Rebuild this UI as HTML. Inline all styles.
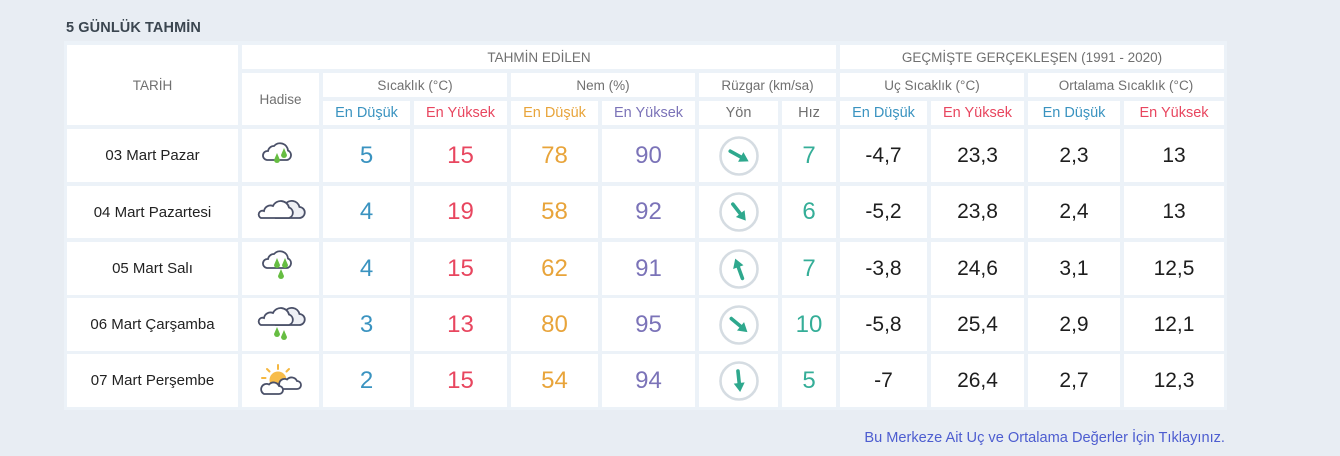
<!DOCTYPE html>
<html>
<head>
<meta charset="utf-8">
<style>
  html,body{margin:0;padding:0;}
  body{width:1340px;height:456px;background:#e8edf3;position:relative;overflow:hidden;
       font-family:"Liberation Sans",sans-serif;}
  .title{position:absolute;left:66px;top:20px;font-size:14.5px;font-weight:bold;color:#3b4650;letter-spacing:0.1px;}
  .tbl{position:absolute;left:64px;top:41px;width:1163px;height:369px;background:#ecf2f8;}
  .c{position:absolute;background:#fff;display:flex;align-items:center;justify-content:center;
     text-align:center;white-space:nowrap;}
  .h{font-size:13.5px;color:#707070;}
  .s{font-size:14.5px;}
  .lo{color:#3a93c0;} .hi{color:#e8465f;} .nlo{color:#e8a43a;} .nhi{color:#7b73b8;} .tl{color:#35ae98;}
  .num{font-size:24px;}
  .hist{font-size:21px;color:#1e1e1e;}
  .date{font-size:15px;color:#222;}
  .foot{position:absolute;right:115px;top:430px;font-size:14.6px;color:#4d5dd0;}
</style>
</head>
<body>
<div class="title">5 GÜNLÜK TAHMİN</div>
<div class="tbl"></div>

<!-- header row 1 -->
<div class="c h" style="left:67px;top:45px;width:171px;height:80px;"><span style="position:relative;top:0px">TARİH</span></div>
<div class="c h" style="left:242px;top:45px;width:594px;height:24px;">TAHMİN EDİLEN</div>
<div class="c h" style="left:840px;top:45px;width:384px;height:24px;">GEÇMİŞTE GERÇEKLEŞEN (1991 - 2020)</div>
<!-- header row 2 -->
<div class="c h" style="left:242px;top:73px;width:77px;height:52px;">Hadise</div>
<div class="c h" style="left:323px;top:73px;width:184px;height:24px;">Sıcaklık (°C)</div>
<div class="c h" style="left:511px;top:73px;width:184px;height:24px;">Nem (%)</div>
<div class="c h" style="left:699px;top:73px;width:137px;height:24px;">Rüzgar (km/sa)</div>
<div class="c h" style="left:840px;top:73px;width:184px;height:24px;">Uç Sıcaklık (°C)</div>
<div class="c h" style="left:1028px;top:73px;width:196px;height:24px;">Ortalama Sıcaklık (°C)</div>
<!-- header row 3 -->
<div class="c h s lo"  style="left:323px;top:101px;width:87px;height:24px;">En Düşük</div>
<div class="c h s hi"  style="left:414px;top:101px;width:93px;height:24px;">En Yüksek</div>
<div class="c h s nlo" style="left:511px;top:101px;width:87px;height:24px;">En Düşük</div>
<div class="c h s nhi" style="left:602px;top:101px;width:93px;height:24px;">En Yüksek</div>
<div class="c h s"     style="left:699px;top:101px;width:79px;height:24px;">Yön</div>
<div class="c h s"     style="left:782px;top:101px;width:54px;height:24px;">Hız</div>
<div class="c h s lo"  style="left:840px;top:101px;width:87px;height:24px;">En Düşük</div>
<div class="c h s hi"  style="left:931px;top:101px;width:93px;height:24px;">En Yüksek</div>
<div class="c h s lo"  style="left:1028px;top:101px;width:92px;height:24px;">En Düşük</div>
<div class="c h s hi"  style="left:1124px;top:101px;width:100px;height:24px;">En Yüksek</div>

<svg width="0" height="0" style="position:absolute">
  <defs>
    <g id="arrow">
      <line x1="0" y1="10" x2="0" y2="-3" stroke="#2ea88d" stroke-width="3.6" stroke-linecap="round"/>
      <polygon points="0,-11 -5.5,-2 5.5,-2" fill="#2ea88d"/>
    </g>
    <path id="drop" d="M0 0 l-3 7 a3 3 0 0 0 6 0 Z" fill="#66bd42"/>
  </defs>
</svg>

<!-- ROW 1 -->
<div class="c date" style="left:67px;top:129px;width:171px;height:53px;">03 Mart Pazar</div>
<div class="c" style="left:242px;top:129px;width:77px;height:53px;">
  <svg width="77" height="53" viewBox="0 0 77 53">
    <path d="M25 31 H45 A5 5 0 0 0 46 21.5 A8 8 0 0 0 32 17 A6 6 0 0 0 26 22 A4.5 4.5 0 0 0 25 31 Z" fill="#fff" stroke="#4a5068" stroke-width="1.8"/>
    <use href="#drop" x="35" y="24"/>
    <use href="#drop" x="42" y="19"/>
  </svg>
</div>
<div class="c num lo"  style="left:323px;top:129px;width:87px;height:53px;">5</div>
<div class="c num hi"  style="left:414px;top:129px;width:93px;height:53px;">15</div>
<div class="c num nlo" style="left:511px;top:129px;width:87px;height:53px;">78</div>
<div class="c num nhi" style="left:602px;top:129px;width:93px;height:53px;">90</div>
<div class="c" style="left:699px;top:129px;width:79px;height:53px;">
  <svg width="44" height="44" viewBox="-22 -22 44 44"><circle r="18.5" fill="none" stroke="#d5dce2" stroke-width="2.6"/><use href="#arrow" transform="rotate(119)"/></svg>
</div>
<div class="c num tl"  style="left:782px;top:129px;width:54px;height:53px;">7</div>
<div class="c hist" style="left:840px;top:129px;width:87px;height:53px;">-4,7</div>
<div class="c hist" style="left:931px;top:129px;width:93px;height:53px;">23,3</div>
<div class="c hist" style="left:1028px;top:129px;width:92px;height:53px;">2,3</div>
<div class="c hist" style="left:1124px;top:129px;width:100px;height:53px;">13</div>

<!-- ROW 2 -->
<div class="c date" style="left:67px;top:186px;width:171px;height:52px;">04 Mart Pazartesi</div>
<div class="c" style="left:242px;top:186px;width:77px;height:52px;">
  <svg width="77" height="52" viewBox="0 0 77 52">
    <path d="M34 32 H57 A5.5 5.5 0 0 0 57.5 21 A8 8 0 0 0 43 18.5 A6 6 0 0 0 36 22 Z" fill="#eef0f5" stroke="#4a5068" stroke-width="1.8"/>
    <path d="M19 32 H47 A5.5 5.5 0 0 0 47 21.5 A8.5 8.5 0 0 0 31 20 A6.5 6.5 0 0 0 22 25 A3.6 3.6 0 0 0 19 32 Z" fill="#fff" stroke="#4a5068" stroke-width="1.8"/>
  </svg>
</div>
<div class="c num lo"  style="left:323px;top:186px;width:87px;height:52px;">4</div>
<div class="c num hi"  style="left:414px;top:186px;width:93px;height:52px;">19</div>
<div class="c num nlo" style="left:511px;top:186px;width:87px;height:52px;">58</div>
<div class="c num nhi" style="left:602px;top:186px;width:93px;height:52px;">92</div>
<div class="c" style="left:699px;top:186px;width:79px;height:52px;">
  <svg width="44" height="44" viewBox="-22 -22 44 44"><circle r="18.5" fill="none" stroke="#d5dce2" stroke-width="2.6"/><use href="#arrow" transform="rotate(142)"/></svg>
</div>
<div class="c num tl"  style="left:782px;top:186px;width:54px;height:52px;">6</div>
<div class="c hist" style="left:840px;top:186px;width:87px;height:52px;">-5,2</div>
<div class="c hist" style="left:931px;top:186px;width:93px;height:52px;">23,8</div>
<div class="c hist" style="left:1028px;top:186px;width:92px;height:52px;">2,4</div>
<div class="c hist" style="left:1124px;top:186px;width:100px;height:52px;">13</div>

<!-- ROW 3 -->
<div class="c date" style="left:67px;top:242px;width:171px;height:53px;">05 Mart Salı</div>
<div class="c" style="left:242px;top:242px;width:77px;height:53px;">
  <svg width="77" height="53" viewBox="0 0 77 53">
    <path d="M25 26 H45 A5 5 0 0 0 46 16.5 A8 8 0 0 0 32 12 A6 6 0 0 0 26 17 A4.5 4.5 0 0 0 25 26 Z" fill="#fff" stroke="#4a5068" stroke-width="1.8"/>
    <use href="#drop" x="35" y="16"/>
    <use href="#drop" x="43" y="16"/>
    <use href="#drop" x="39" y="27"/>
  </svg>
</div>
<div class="c num lo"  style="left:323px;top:242px;width:87px;height:53px;">4</div>
<div class="c num hi"  style="left:414px;top:242px;width:93px;height:53px;">15</div>
<div class="c num nlo" style="left:511px;top:242px;width:87px;height:53px;">62</div>
<div class="c num nhi" style="left:602px;top:242px;width:93px;height:53px;">91</div>
<div class="c" style="left:699px;top:242px;width:79px;height:53px;">
  <svg width="44" height="44" viewBox="-22 -22 44 44"><circle r="18.5" fill="none" stroke="#d5dce2" stroke-width="2.6"/><use href="#arrow" transform="rotate(-20)"/></svg>
</div>
<div class="c num tl"  style="left:782px;top:242px;width:54px;height:53px;">7</div>
<div class="c hist" style="left:840px;top:242px;width:87px;height:53px;">-3,8</div>
<div class="c hist" style="left:931px;top:242px;width:93px;height:53px;">24,6</div>
<div class="c hist" style="left:1028px;top:242px;width:92px;height:53px;">3,1</div>
<div class="c hist" style="left:1124px;top:242px;width:100px;height:53px;">12,5</div>

<!-- ROW 4 -->
<div class="c date" style="left:67px;top:298px;width:171px;height:53px;">06 Mart Çarşamba</div>
<div class="c" style="left:242px;top:298px;width:77px;height:53px;">
  <svg width="77" height="53" viewBox="0 0 77 53">
    <path d="M34 27 H57 A5.5 5.5 0 0 0 57.5 16 A8 8 0 0 0 43 13.5 A6 6 0 0 0 36 17 Z" fill="#eef0f5" stroke="#4a5068" stroke-width="1.8"/>
    <path d="M19 27 H47 A5.5 5.5 0 0 0 47 16.5 A8.5 8.5 0 0 0 31 15 A6.5 6.5 0 0 0 22 20 A3.6 3.6 0 0 0 19 27 Z" fill="#fff" stroke="#4a5068" stroke-width="1.8"/>
    <use href="#drop" x="35" y="29"/>
    <use href="#drop" x="42" y="32"/>
  </svg>
</div>
<div class="c num lo"  style="left:323px;top:298px;width:87px;height:53px;">3</div>
<div class="c num hi"  style="left:414px;top:298px;width:93px;height:53px;">13</div>
<div class="c num nlo" style="left:511px;top:298px;width:87px;height:53px;">80</div>
<div class="c num nhi" style="left:602px;top:298px;width:93px;height:53px;">95</div>
<div class="c" style="left:699px;top:298px;width:79px;height:53px;">
  <svg width="44" height="44" viewBox="-22 -22 44 44"><circle r="18.5" fill="none" stroke="#d5dce2" stroke-width="2.6"/><use href="#arrow" transform="rotate(130)"/></svg>
</div>
<div class="c num tl"  style="left:782px;top:298px;width:54px;height:53px;">10</div>
<div class="c hist" style="left:840px;top:298px;width:87px;height:53px;">-5,8</div>
<div class="c hist" style="left:931px;top:298px;width:93px;height:53px;">25,4</div>
<div class="c hist" style="left:1028px;top:298px;width:92px;height:53px;">2,9</div>
<div class="c hist" style="left:1124px;top:298px;width:100px;height:53px;">12,1</div>

<!-- ROW 5 -->
<div class="c date" style="left:67px;top:354px;width:171px;height:53px;">07 Mart Perşembe</div>
<div class="c" style="left:242px;top:354px;width:77px;height:53px;">
  <svg width="77" height="53" viewBox="0 0 77 53">
    <g stroke="#f5b73f" stroke-width="2" stroke-linecap="round">
      <line x1="36" y1="11" x2="36" y2="15"/>
      <line x1="25" y1="15" x2="27.5" y2="17.5"/>
      <line x1="47" y1="15" x2="44.5" y2="17.5"/>
      <line x1="20" y1="24" x2="23.5" y2="24"/>
    </g>
    <circle cx="36" cy="26" r="8.5" fill="#f7bc4a"/>
    <path d="M40 35 H55 A4 4 0 0 0 55 27 A6 6 0 0 0 45 25.5 A4.5 4.5 0 0 0 40 35 Z" fill="#fff" stroke="#4a5068" stroke-width="1.8"/>
    <path d="M22 40 H37 A4 4 0 0 0 37 32 A6 6 0 0 0 27 30.5 A4.5 4.5 0 0 0 22 40 Z" fill="#fff" stroke="#4a5068" stroke-width="1.8"/>
  </svg>
</div>
<div class="c num lo"  style="left:323px;top:354px;width:87px;height:53px;">2</div>
<div class="c num hi"  style="left:414px;top:354px;width:93px;height:53px;">15</div>
<div class="c num nlo" style="left:511px;top:354px;width:87px;height:53px;">54</div>
<div class="c num nhi" style="left:602px;top:354px;width:93px;height:53px;">94</div>
<div class="c" style="left:699px;top:354px;width:79px;height:53px;">
  <svg width="44" height="44" viewBox="-22 -22 44 44"><circle r="18.5" fill="none" stroke="#d5dce2" stroke-width="2.6"/><use href="#arrow" transform="rotate(174)"/></svg>
</div>
<div class="c num tl"  style="left:782px;top:354px;width:54px;height:53px;">5</div>
<div class="c hist" style="left:840px;top:354px;width:87px;height:53px;">-7</div>
<div class="c hist" style="left:931px;top:354px;width:93px;height:53px;">26,4</div>
<div class="c hist" style="left:1028px;top:354px;width:92px;height:53px;">2,7</div>
<div class="c hist" style="left:1124px;top:354px;width:100px;height:53px;">12,3</div>

<div class="foot">Bu Merkeze Ait Uç ve Ortalama Değerler İçin Tıklayınız.</div>
</body>
</html>
